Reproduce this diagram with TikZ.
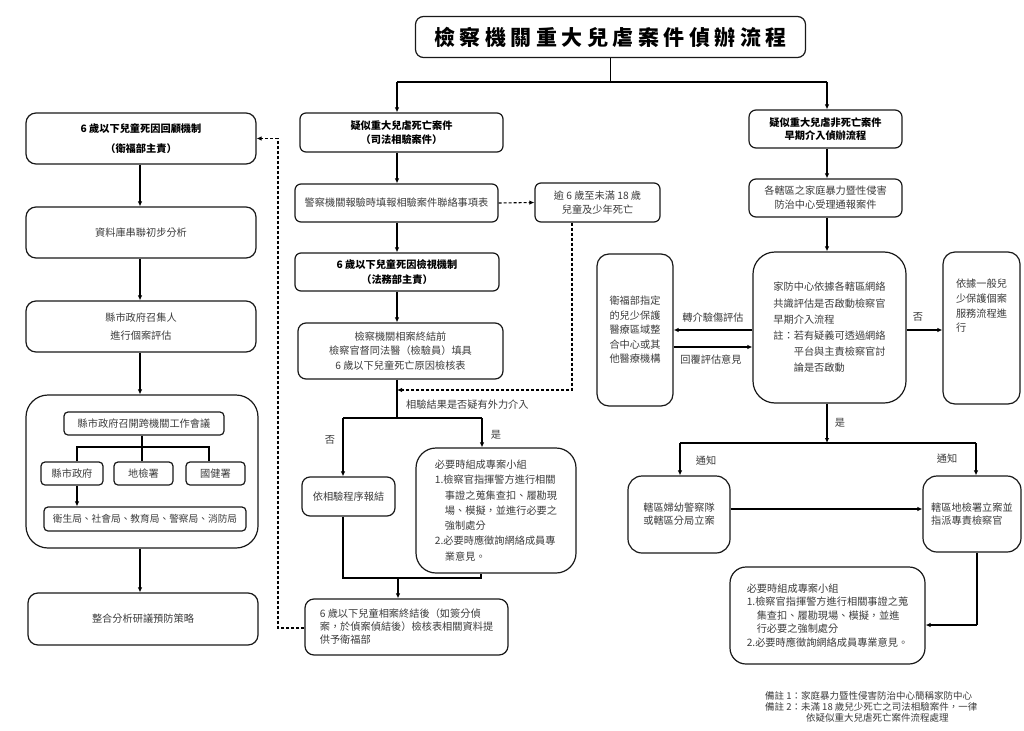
\documentclass[tikz,border=0pt]{standalone}
\usepackage{fontspec}
\setmainfont{Noto Sans CJK TC}
\usetikzlibrary{arrows.meta}
\definecolor{txt}{HTML}{3C3C3C}
\def\ts{\hspace{4.5pt}}
\tikzset{
 box/.style={draw=black!90, line width=1.2pt, rounded corners=6pt, inner sep=0pt, align=center, text=txt, font=\fontsize{10.2}{14.5}\selectfont},
 hd/.style={text=black, font=\fontsize{10.2}{14.5}\selectfont\bfseries},
 arr/.style={-{Latex[length=5pt,width=4.5pt]}, line width=1.1pt},
 darr/.style={-{Latex[length=5pt,width=4.5pt]}, line width=1.1pt, dash pattern=on 3pt off 2pt},
 dln/.style={line width=1.1pt, dash pattern=on 3pt off 2pt},
 ln/.style={line width=1.1pt},
 lab/.style={text=txt, font=\fontsize{10.2}{12}\selectfont, inner sep=0pt},
 note/.style={text=txt, font=\fontsize{9.5}{10}\selectfont, inner sep=0pt, anchor=west},
}
\begin{document}
\begin{tikzpicture}[x=1pt,y=-1pt]
\useasboundingbox (0,0) rectangle (1024,730);
\fill[white] (0,0) rectangle (1024,730);

% title
\node[box, rounded corners=8pt, minimum width=390pt, minimum height=41pt, text=black, font=\fontsize{21}{24}\selectfont\bfseries] (title) at (610.5,37)
 {檢\ts 察\ts 機\ts 關\ts 重\ts 大\ts 兒\ts 虐\ts 案\ts 件\ts 偵\ts 辦\ts 流\ts 程};

% middle column
\node[box, hd, minimum width=203pt, minimum height=39pt] (A) at (401.5,132.5) {疑似重大兒虐死亡案件\\（司法相驗案件）};
\node[box, minimum width=203pt, minimum height=38pt] (B) at (396.5,203) {警察機關報驗時填報相驗案件聯絡事項表};
\node[box, minimum width=125pt, minimum height=39pt] (C) at (597.5,202.5) {逾 6 歲至未滿 18 歲\\兒童及少年死亡};
\node[box, hd, minimum width=204pt, minimum height=38pt] (D) at (397,272) {6 歲以下兒童死因檢視機制\\（法務部主責）};
\node[box, rounded corners=8pt, minimum width=205pt, minimum height=56pt] (E) at (400.5,351) {檢察機關相案終結前\\檢察官督同法醫（檢驗員）填具\\6 歲以下兒童死亡原因檢核表};
\node[box, rounded corners=8pt, minimum width=93pt, minimum height=39pt] (F) at (348.5,496.5) {依相驗程序報結};
\node[box, rounded corners=20pt, minimum width=160pt, minimum height=125pt, align=left, font=\fontsize{10.2}{15.3}\selectfont] (G) at (496,510.5)
 {必要時組成專案小組\\1.檢察官指揮警方進行相關\\\hspace*{10pt}事證之蒐集查扣、履勘現\\\hspace*{10pt}場、模擬，並進行必要之\\\hspace*{10pt}強制處分\\2.必要時應徵詢網絡成員專\\\hspace*{10pt}業意見。};
\node[box, rounded corners=9pt, minimum width=203pt, minimum height=56pt, align=left, font=\fontsize{10.2}{13}\selectfont] (H) at (406.5,627)
 {6 歲以下兒童相案終結後（如簽分偵\\案，於偵案偵結後）檢核表相關資料提\\供予衛福部};

% left column
\node[box, hd, rounded corners=10pt, minimum width=230pt, minimum height=51pt, font=\fontsize{10.2}{20}\selectfont\bfseries] (L1) at (141,138.5) {6 歲以下兒童死因回顧機制\\（衛福部主責）};
\node[box, rounded corners=10pt, minimum width=230pt, minimum height=51pt] (L2) at (141,232.5) {資料庫串聯初步分析};
\node[box, rounded corners=10pt, minimum width=230pt, minimum height=51pt, font=\fontsize{10.2}{18.5}\selectfont] (L3) at (141,326.5) {縣市政府召集人\\進行個案評估};
\node[box, rounded corners=22pt, minimum width=232pt, minimum height=153pt] (L4) at (142,471.5) {};
\node[box, rounded corners=4pt, minimum width=160pt, minimum height=23pt] (M) at (144,423.5) {縣市政府召開跨機關工作會議};
\node[box, rounded corners=4pt, minimum width=62pt, minimum height=23pt] (S1) at (72,473.5) {縣市政府};
\node[box, rounded corners=4pt, minimum width=59pt, minimum height=23pt] (S2) at (143.5,473.5) {地檢署};
\node[box, rounded corners=4pt, minimum width=59pt, minimum height=23pt] (S3) at (215.5,473.5) {國健署};
\node[box, rounded corners=4pt, minimum width=202pt, minimum height=24pt, font=\fontsize{9.7}{12}\selectfont] (BU) at (145,519) {衛生局、社會局、教育局、警察局、消防局};
\node[box, rounded corners=10pt, minimum width=230pt, minimum height=52pt] (L5) at (143,619) {整合分析研議預防策略};

% right column
\node[box, hd, rounded corners=7pt, minimum width=153pt, minimum height=38pt, font=\fontsize{10.2}{13.5}\selectfont\bfseries] (R1) at (825.5,129) {疑似重大兒虐非死亡案件\\早期介入偵辦流程};
\node[box, rounded corners=7pt, minimum width=153pt, minimum height=38pt, font=\fontsize{10.2}{14}\selectfont] (R2) at (825.5,198) {各轄區之家庭暴力暨性侵害\\防治中心受理通報案件};
\node[box, rounded corners=22pt, minimum width=153pt, minimum height=151pt, align=left, font=\fontsize{10.2}{16.2}\selectfont] (R3) at (829.5,327.5)
 {家防中心依據各轄區網絡\\共識評估是否啟動檢察官\\早期介入流程\\註：若有疑義可透過網絡\\\hspace*{2em}平台與主責檢察官討\\\hspace*{2em}論是否啟動};
\node[box, rounded corners=12pt, minimum width=76pt, minimum height=152pt, align=left, font=\fontsize{10.2}{14.5}\selectfont] (R4) at (635,330)
 {衛福部指定\\的兒少保護\\醫療區域整\\合中心或其\\他醫療機構};
\node[box, rounded corners=12pt, minimum width=77pt, minimum height=152pt] (R5) at (981.5,328) {};
\node[lab, align=left, font=\fontsize{10.2}{14.7}\selectfont] (R5t) at (981.5,306) {依據一般兒\\少保護個案\\服務流程進\\行};
\node[box, rounded corners=14pt, minimum width=102pt, minimum height=77pt, align=left, font=\fontsize{10.2}{13}\selectfont] (R6) at (679,514.5) {轄區婦幼警察隊\\或轄區分局立案};
\node[box, rounded corners=14pt, minimum width=98pt, minimum height=76pt, align=left, font=\fontsize{10.2}{13}\selectfont] (R7) at (972,514) {轄區地檢署立案並\\指派專責檢察官};
\node[box, rounded corners=16pt, minimum width=195pt, minimum height=97pt, align=left, font=\fontsize{10.2}{13.5}\selectfont] (R8) at (827.5,615.5)
 {必要時組成專案小組\\1.檢察官指揮警方進行相關事證之蒐\\\hspace*{10pt}集查扣、履勘現場、模擬，並進\\\hspace*{10pt}行必要之強制處分\\2.必要時應徵詢網絡成員專業意見。};

% coordinates
\coordinate (tj) at (610.5,82);
\coordinate (mx) at (397,0);
\coordinate (rx) at (827,0);
\coordinate (lx) at (140,0);
\coordinate (dj) at (572,390);
\coordinate (sp) at (397,418);
\coordinate (spl) at (343,418);
\coordinate (spr) at (482,418);
\coordinate (mgl) at (343,578);
\coordinate (mgr) at (481,578);
\coordinate (mgc) at (398,578);
\coordinate (hl) at (278,628);
\coordinate (hu) at (278,138.5);
\coordinate (lj) at (142,447);
\coordinate (ljl) at (77,447);
\coordinate (ljr) at (209,447);
\coordinate (rj) at (827,443);
\coordinate (rjl) at (680,443);
\coordinate (rjr) at (976,443);
\coordinate (r7d) at (977,625);

% title connectors
\draw[ln] (title.south) -- (tj);
\draw[ln] (tj) -- (tj -| mx) (tj) -- (tj -| rx);
\draw[arr] (tj -| mx) -- (A.north -| mx);
\draw[arr] (tj -| rx) -- (R1.north -| rx);

% middle connectors
\draw[arr] (A.south -| mx) -- (B.north -| mx);
\draw[arr] (B.south -| mx) -- (D.north -| mx);
\draw[arr] (D.south -| mx) -- (E.north -| mx);
\draw[darr] (B.east) -- (C.west);
\draw[darr] (C.south -| dj) -- (dj) -- (dj -| mx);
\draw[ln] (E.south -| mx) -- (sp);
\draw[ln] (spl) -- (spr);
\draw[arr] (spl) -- (F.north -| spl);
\draw[arr] (spr) -- (G.north -| spr);
\node[lab, anchor=west] (q) at (406,405) {相驗結果是否疑有外力介入};
\node[lab] (no1) at (330,440) {否};
\node[lab] (yes1) at (496,435) {是};
\draw[ln] (F.south -| mgl) -- (mgl) -- (mgr) -- (G.south -| mgr);
\draw[arr] (mgc) -- (H.north -| mgc);
\draw[dln] (H.west |- hl) -- (hl) -- (hu);
\draw[darr] (hu) -- (L1.east);

% left connectors
\draw[arr] (L1.south -| lx) -- (L2.north -| lx);
\draw[arr] (L2.south -| lx) -- (L3.north -| lx);
\draw[arr] (L3.south -| lx) -- (L4.north -| lx);
\draw[arr] (L4.south -| lx) -- (L5.north -| lx);
\draw[ln] (M.south -| lj) -- (S2.north -| lj);
\draw[ln] (S1.north -| ljl) -- (ljl) -- (ljr) -- (S3.north -| ljr);
\draw[arr] (S1.south -| ljl) -- (BU.north -| ljl);

% right connectors
\draw[arr] (R1.south -| rx) -- (R2.north -| rx);
\draw[arr] (R2.south -| rx) -- (R3.north -| rx);
\draw[arr] (R3.west |- 0,330) -- (R4.east |- 0,330);
\draw[arr] (R4.east |- 0,347) -- (R3.west |- 0,347);
\node[lab] (l1) at (713,318) {轉介驗傷評估};
\node[lab] (l2) at (711,360) {回覆評估意見};
\draw[arr] (R3.east |- 0,330) -- (R5.west |- 0,330);
\node[lab] (no2) at (918,317) {否};
\draw[arr] (R3.south -| rx) -- (rj);
\node[lab] (yes2) at (840,423) {是};
\draw[ln] (rjl) -- (rjr);
\draw[arr] (rjl) -- (R6.north -| rjl);
\draw[arr] (rjr) -- (R7.north -| rjr);
\node[lab] (n1) at (706,461) {通知};
\node[lab] (n2) at (947,459) {通知};
\draw[arr] (R6.east |- 0,509) -- (R7.west |- 0,509);
\draw[ln] (R7.south -| r7d) -- (r7d);
\draw[arr] (r7d) -- (R8.east |- r7d);

% notes
\node[note] (nt1) at (765,696) {備註 1：家庭暴力暨性侵害防治中心簡稱家防中心};
\node[note] (nt2) at (765,707) {備註 2：未滿 18 歲兒少死亡之司法相驗案件，一律};
\node[note] (nt3) at (806,718) {依疑似重大兒虐死亡案件流程處理};
\end{tikzpicture}
\end{document}
